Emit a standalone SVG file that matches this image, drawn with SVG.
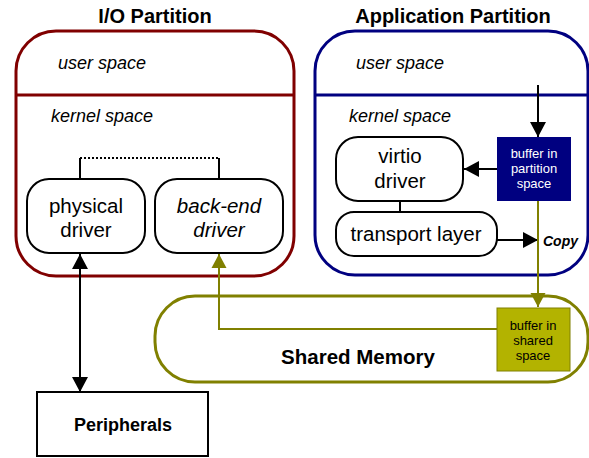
<svg xmlns="http://www.w3.org/2000/svg" width="589" height="458" viewBox="0 0 589 458">
<defs>
<style>
text{font-family:"Liberation Sans",Arial,sans-serif;}
.title{font-size:20px;font-weight:bold;text-anchor:middle;}
.space{font-size:18px;font-style:italic;}
.node{fill:#fff;stroke:#000;stroke-width:2;}
.ntext{font-size:20.5px;text-anchor:middle;}
.btext{font-size:13px;text-anchor:middle;}
.conn{fill:none;stroke-width:2;}
</style>
<marker id="ab" markerUnits="userSpaceOnUse" markerWidth="16" markerHeight="16" refX="15" refY="8" orient="auto"><path d="M0,0 L15,8 L0,16 Z" fill="#000"/></marker>
<marker id="ao" markerUnits="userSpaceOnUse" markerWidth="16" markerHeight="16" refX="14" refY="8" orient="auto"><path d="M0,0.5 L14,8 L0,15.5 Z" fill="#808000"/></marker>
<marker id="abs" markerUnits="userSpaceOnUse" markerWidth="16" markerHeight="16" refX="15" refY="8" orient="auto-start-reverse"><path d="M0,0 L15,8 L0,16 Z" fill="#000"/></marker>
</defs>
<rect width="589" height="458" fill="#fff"/>

<g id="io-partition">
<text class="title" x="155" y="23">I/O Partition</text>
<rect x="16" y="31" width="278" height="245" rx="40" fill="none" stroke="#800000" stroke-width="3"/>
<line x1="16" y1="95" x2="294" y2="95" stroke="#800000" stroke-width="3"/>
<text class="space" x="58" y="69">user space</text>
<text class="space" x="51" y="122">kernel space</text>
</g>

<g id="app-partition">
<text class="title" x="453" y="23">Application Partition</text>
<rect x="315" y="31" width="273" height="244" rx="40" fill="none" stroke="#000080" stroke-width="3"/>
<line x1="315" y1="95" x2="588" y2="95" stroke="#000080" stroke-width="3"/>
<text class="space" x="356" y="69">user space</text>
<text class="space" x="349" y="122">kernel space</text>
</g>

<g id="shared-memory">
<rect x="155" y="296" width="433" height="86" rx="40" fill="none" stroke="#808000" stroke-width="3"/>
<text x="358" y="364" font-size="20.5" font-weight="bold" text-anchor="middle">Shared Memory</text>
</g>

<g id="connectors">
<path class="conn" d="M80,179 V158 M219,179 V158" stroke="#000"/>
<line x1="80" y1="158" x2="219" y2="158" stroke="#000" stroke-width="2" stroke-dasharray="2,2"/>
<line x1="400" y1="201" x2="400" y2="212" stroke="#000" stroke-width="2"/>
<line class="conn" x1="80" y1="254" x2="80" y2="392" stroke="#000" marker-start="url(#abs)" marker-end="url(#abs)"/>
<line class="conn" x1="538" y1="85" x2="538" y2="137" stroke="#000" marker-end="url(#ab)"/>
<line class="conn" x1="497" y1="169" x2="464" y2="169" stroke="#000" marker-end="url(#ab)"/>
<line class="conn" x1="497" y1="240" x2="538" y2="240" stroke="#000" marker-end="url(#ab)"/>
<line class="conn" x1="538" y1="201" x2="538" y2="307" stroke="#808000" marker-end="url(#ao)"/>
<polyline class="conn" points="497,329 219,329 219,254" stroke="#808000" marker-end="url(#ao)"/>
<text x="543" y="246" font-size="14" font-weight="bold" font-style="italic">Copy</text>
</g>

<g id="physical-driver">
<rect class="node" x="27" y="179" width="118" height="74" rx="22"/>
<text class="ntext" x="86" y="213">physical</text>
<text class="ntext" x="86" y="237">driver</text>
</g>

<g id="backend-driver">
<rect class="node" x="155" y="179" width="128" height="74" rx="22"/>
<text class="ntext" x="219" y="213" font-style="italic">back-end</text>
<text class="ntext" x="219" y="237" font-style="italic">driver</text>
</g>

<g id="virtio-driver">
<rect class="node" x="336" y="137" width="127" height="64" rx="22"/>
<text class="ntext" x="400" y="163">virtio</text>
<text class="ntext" x="400" y="188">driver</text>
</g>

<g id="transport-layer">
<rect class="node" x="336" y="212" width="161" height="44" rx="18"/>
<text class="ntext" x="416" y="241">transport layer</text>
</g>

<g id="buffer-partition">
<rect x="497" y="137" width="74" height="64" fill="#000080"/>
<text class="btext" x="534" y="158" fill="#fff">buffer in</text>
<text class="btext" x="534" y="173" fill="#fff">partition</text>
<text class="btext" x="534" y="188" fill="#fff">space</text>
</g>

<g id="buffer-shared">
<rect x="497" y="308" width="73" height="63" fill="#b3b300" stroke="#808000" stroke-width="1"/>
<text class="btext" x="533" y="330">buffer in</text>
<text class="btext" x="533" y="345">shared</text>
<text class="btext" x="533" y="360">space</text>
</g>

<g id="peripherals">
<rect x="37" y="392" width="171" height="64" fill="#fff" stroke="#000" stroke-width="2"/>
<text x="123" y="431" font-size="18" font-weight="bold" text-anchor="middle">Peripherals</text>
</g>
</svg>
